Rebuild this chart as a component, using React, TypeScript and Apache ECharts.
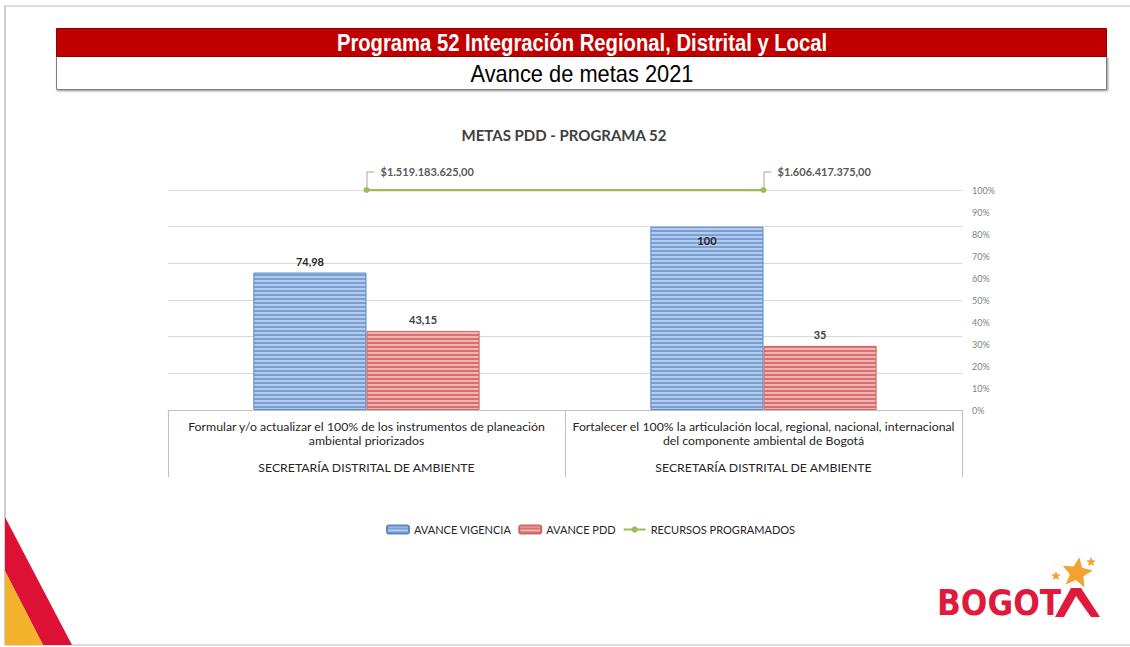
import { useEffect, useRef } from "react";
import * as echarts from "echarts";

// ---------- data ----------
const categories = [
  "Formular y/o actualizar el 100% de los instrumentos de planeación\nambiental priorizados",
  "Fortalecer el 100% la articulación local, regional, nacional, internacional\ndel componente ambiental de Bogotá",
];
const entities = ["SECRETARÍA DISTRITAL DE AMBIENTE", "SECRETARÍA DISTRITAL DE AMBIENTE"];
const avanceVigencia = [74.98, 100];
const avancePDD = [43.15, 35];
const recursosProgramados = [1519183625.0, 1606417375.0];
const recursosShare = [1, 1]; // plotted on the secondary % axis
const seriesNames = ["AVANCE VIGENCIA", "AVANCE PDD", "RECURSOS PROGRAMADOS"];

const FONT = "Lato, 'Open Sans', sans-serif";

function money(v: number): string {
  const [i, d] = v.toFixed(2).split(".");
  return "$" + i.replace(/\B(?=(\d{3})+(?!\d))/g, ".") + "," + d;
}
function dec(v: number): string {
  return Number.isInteger(v) ? String(v) : v.toFixed(2).replace(".", ",");
}
function stripes(light: string, dark: string) {
  const c = document.createElement("canvas");
  c.width = 4;
  c.height = 4;
  const ctx = c.getContext("2d")!;
  ctx.fillStyle = light;
  ctx.fillRect(0, 0, 4, 2);
  ctx.fillStyle = dark;
  ctx.fillRect(0, 2, 4, 2);
  return { image: c, repeat: "repeat", imageWidth: 4, imageHeight: 4 } as any;
}
function starPoints(cx: number, cy: number, r: number, rot = 0) {
  const pts: number[][] = [];
  for (let k = 0; k < 10; k++) {
    const rr = k % 2 === 0 ? r : r * 0.45;
    const a = -Math.PI / 2 + rot + (k * Math.PI) / 5;
    pts.push([cx + rr * Math.cos(a), cy + rr * Math.sin(a)]);
  }
  return pts;
}

export default function App() {
  const ref = useRef<HTMLDivElement>(null);
  useEffect(() => {
    const chart = echarts.init(ref.current!, null, { renderer: "svg" });
    const blue = stripes("#B5CBEA", "#7A9FD5");
    const red = stripes("#EFB3B1", "#D8716E");

    const baseGraphics: any[] = [
      // frame
      { type: "rect", id: "f1", shape: { x: 4, y: 5, width: 1126, height: 2 }, style: { fill: "#DCDCDC" }, silent: true },
      { type: "rect", id: "f2", shape: { x: 4, y: 6, width: 2, height: 640 }, style: { fill: "#CFCFCF" }, silent: true },
      { type: "rect", id: "f3", shape: { x: 4, y: 644, width: 1126, height: 2 }, style: { fill: "#DCDCDC" }, silent: true },
      // header
      {
        type: "rect", id: "h2",
        shape: { x: 56.5, y: 56.5, width: 1050, height: 33 },
        style: { fill: "#FFFFFF", stroke: "#7F7F7F", lineWidth: 1, shadowBlur: 2, shadowOffsetX: 1, shadowOffsetY: 1, shadowColor: "rgba(0,0,0,0.45)" },
      },
      {
        type: "rect", id: "h1",
        shape: { x: 56.5, y: 28.5, width: 1050, height: 28 },
        style: { fill: "#C00000", stroke: "#8E0000", lineWidth: 1 },
      },
      {
        type: "text", id: "t1", x: 582, y: 43, scaleX: 0.88,
        style: { text: "Programa 52 Integración Regional, Distrital y Local", fill: "#FFFFFF", font: "bold 23px 'Liberation Sans', Arial, sans-serif", textAlign: "center", textVerticalAlign: "middle" },
      },
      {
        type: "text", id: "t2", x: 582, y: 74, scaleX: 0.95,
        style: { text: "Avance de metas 2021", fill: "#000000", font: "23px 'Liberation Sans', Arial, sans-serif", textAlign: "center", textVerticalAlign: "middle" },
      },
      // chart title
      {
        type: "text", id: "t3", x: 564, y: 135,
        style: { text: "METAS PDD - PROGRAMA 52", fill: "#404040", font: `bold 15px ${FONT}`, textAlign: "center", textVerticalAlign: "middle" },
      },
      // corner decoration
      { type: "polygon", id: "c1", shape: { points: [[5, 517], [72, 645], [43, 645], [5, 571]] }, style: { fill: "#DC1134" } },
      { type: "polygon", id: "c2", shape: { points: [[5, 571], [43, 645], [5, 645]] }, style: { fill: "#F4B12A" } },
      // logo
      {
        type: "text", id: "lg", x: 937, y: 603, scaleX: 0.87,
        style: { text: "BOGOT", fill: "#E01A3D", font: "bold 36px 'DejaVu Sans', sans-serif", textAlign: "left", textVerticalAlign: "middle" },
      },
      {
        type: "polygon", id: "lam",
        shape: { points: [[1055, 617], [1071, 588], [1081, 588], [1100, 617], [1091, 617], [1076, 596], [1064, 617]] },
        style: { fill: "#E01A3D" },
      },
      { type: "polygon", id: "s1", shape: { points: starPoints(1077, 573, 16, 0.15) }, style: { fill: "#F2A22E" } },
      { type: "polygon", id: "s2", shape: { points: starPoints(1056, 576, 5) }, style: { fill: "#F2A22E" } },
      { type: "polygon", id: "s3", shape: { points: starPoints(1091, 562, 5) }, style: { fill: "#F2A22E" } },
    ];

    const option: any = {
      animation: false,
      backgroundColor: "#FFFFFF",
      textStyle: { fontFamily: FONT },
      grid: { left: 168, right: 168, top: 190, bottom: 237, containLabel: false },
      legend: {
        data: seriesNames,
        left: 381,
        top: 519,
        itemWidth: 22,
        itemHeight: 8,
        itemGap: 7,
        textStyle: { color: "#262626", fontSize: 11, fontFamily: FONT },
      },
      xAxis: {
        type: "category",
        data: categories,
        axisLine: { show: true, lineStyle: { color: "#BFBFBF", width: 1 } },
        axisTick: { show: true, length: 67, interval: 0, alignWithLabel: false, lineStyle: { color: "#BFBFBF" } },
        axisLabel: {
          interval: 0,
          margin: 10,
          color: "#262626",
          fontSize: 12.3,
          lineHeight: 13.5,
          fontFamily: FONT,
          formatter: (v: string, i: number) => v + "\n\n" + entities[i],
        },
      },
      yAxis: [
        {
          type: "value",
          min: 0,
          max: 120,
          interval: 20,
          axisLabel: { show: false },
          axisLine: { show: false },
          axisTick: { show: false },
          splitLine: { show: true, lineStyle: { color: "#D9D9D9", width: 1 } },
        },
        {
          type: "value",
          position: "right",
          min: 0,
          max: 1,
          interval: 0.1,
          axisLine: { show: false },
          axisTick: { show: false },
          splitLine: { show: false },
          axisLabel: { margin: 10, color: "#7F7F7F", fontSize: 9, fontFamily: FONT, formatter: (v: number) => Math.round(v * 100) + "%" },
        },
      ],
      series: [
        {
          name: seriesNames[0],
          type: "bar",
          barWidth: "28.5%",
          barGap: "0%",
          itemStyle: { color: blue, borderColor: "#5A88C6", borderWidth: 1 },
          label: { show: true, position: "top", distance: 6, color: "#262626", fontWeight: "bold", fontSize: 11, formatter: (p: any) => dec(p.value) },
          data: avanceVigencia.map((v) =>
            v >= 100 ? { value: v, label: { position: "insideTop", distance: 8 } } : v
          ),
        },
        {
          name: seriesNames[1],
          type: "bar",
          barWidth: "28.5%",
          barGap: "0%",
          itemStyle: { color: red, borderColor: "#CF6764", borderWidth: 1 },
          label: { show: true, position: "top", distance: 6, color: "#404040", fontWeight: "bold", fontSize: 11, formatter: (p: any) => dec(p.value) },
          data: avancePDD,
        },
        {
          name: seriesNames[2],
          type: "line",
          yAxisIndex: 1,
          symbol: "circle",
          symbolSize: 6,
          z: 5,
          lineStyle: { color: "#9BBB59", width: 2.5 },
          itemStyle: { color: "#9BBB59" },
          label: {
            show: true,
            position: "right",
            offset: [6, -19],
            color: "#595959",
            fontWeight: "bold",
            fontSize: 11,
            formatter: (p: any) => money(recursosProgramados[p.dataIndex]),
          },
          data: recursosShare,
        },
      ],
      graphic: { elements: baseGraphics },
    };
    chart.setOption(option);

    // leader lines for the line-series labels, anchored on the data points
    const leaders: any[] = recursosShare.map((v, i) => {
      const [px, py] = chart.convertToPixel({ seriesIndex: 2 }, [i, v]) as number[];
      return {
        type: "polyline",
        id: "ld" + i,
        shape: { points: [[px + 0.5, py - 3], [px + 0.5, py - 18], [px + 8, py - 18]] },
        style: { stroke: "#A6A6A6", lineWidth: 1, fill: "none" },
        silent: true,
      };
    });
    chart.setOption({ graphic: { elements: [...baseGraphics, ...leaders] } });

    return () => chart.dispose();
  }, []);
  return <div ref={ref} style={{ position: "fixed", left: 0, top: 0, width: 1130, height: 647 }} />;
}
